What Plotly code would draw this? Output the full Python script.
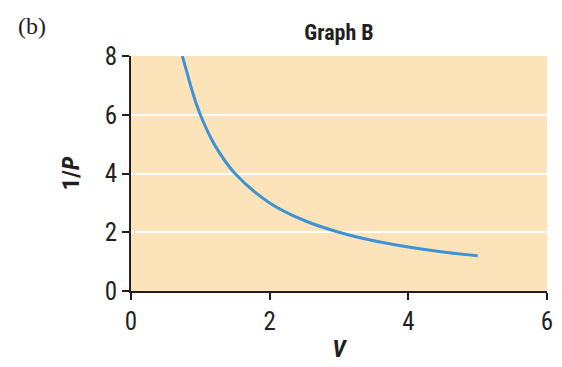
import plotly.graph_objects as go

# Data
V_values = [0.74, 0.8, 0.9, 1.0, 1.2, 1.5, 2.0, 2.5, 3.0, 3.5, 4.0, 4.5, 5.0]
inv_P_values = [8.0, 7.5, 6.67, 6.0, 5.0, 4.0, 3.0, 2.4, 2.0, 1.71, 1.5, 1.33, 1.2]
x_ticks = [0, 2, 4, 6]
y_ticks = [0, 2, 4, 6, 8]

AXIS = "#231f20"
NARROW = "Roboto Condensed, Liberation Sans, sans-serif"
TICKFONT = dict(family=NARROW, size=25, color=AXIS)

fig = go.Figure()
fig.add_trace(go.Scatter(
    x=V_values, y=inv_P_values, mode="lines",
    line=dict(color="#3d93d3", width=3, shape="spline"),
    hoverinfo="skip", showlegend=False,
))

fig.update_layout(
    width=562, height=367,
    margin=dict(l=131, r=9, t=56, b=71),
    paper_bgcolor="white",
    plot_bgcolor="#fde3ba",
    title=dict(
        text="<b>Graph B</b>",
        xref="paper", x=0.5, xanchor="center", y=0.912, yanchor="middle",
        font=dict(family=NARROW, size=22, color=AXIS),
    ),
    xaxis=dict(
        range=[0, 6], tickvals=x_ticks, ticktext=[str(t) for t in x_ticks],
        showgrid=False, zeroline=False,
        showline=True, linecolor=AXIS, linewidth=2,
        ticks="outside", ticklen=7, tickwidth=1.5, tickcolor=AXIS,
        tickfont=TICKFONT,
        title=dict(text="<b><i>V</i></b>", standoff=5,
                   font=dict(family=NARROW, size=24, color=AXIS)),
    ),
    yaxis=dict(
        range=[0, 8], tickvals=y_ticks, ticktext=[str(t) for t in y_ticks],
        showgrid=True, gridcolor="white", gridwidth=2, zeroline=False,
        showline=True, linecolor=AXIS, linewidth=2,
        ticks="outside", ticklen=7, tickwidth=1.5, tickcolor=AXIS,
        tickfont=TICKFONT,
        title=dict(text="<b>1/<i>P</i></b>", standoff=18,
                   font=dict(family=NARROW, size=24, color=AXIS)),
    ),
    annotations=[dict(
        text="(b)", xref="paper", yref="paper", x=-0.277, y=1.129,
        xanchor="left", yanchor="middle", showarrow=False,
        font=dict(family="Liberation Serif, Times New Roman, serif", size=24, color=AXIS),
    )],
)

fig.write_html(
    "out.html",
    config={"displayModeBar": False},
    post_script="document.body.style.margin='0px';document.body.style.overflow='hidden';",
)
